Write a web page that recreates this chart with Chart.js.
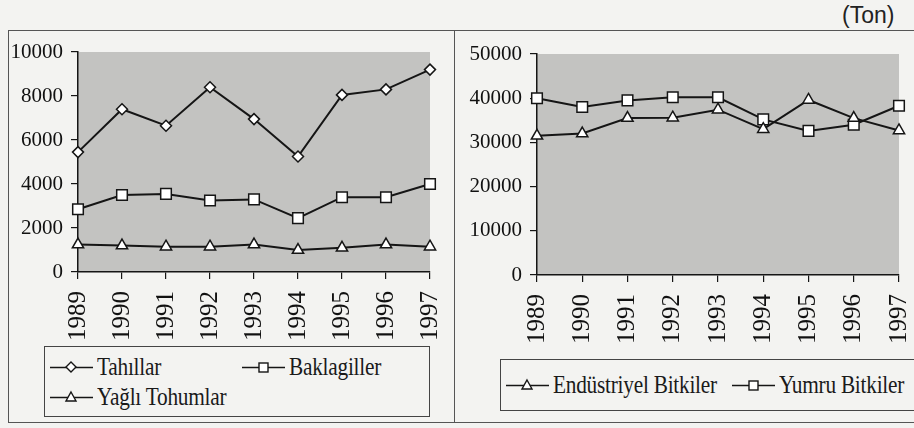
<!DOCTYPE html>
<html>
<head>
<meta charset="utf-8">
<script src="https://cdn.jsdelivr.net/npm/chart.js@4.4.1/dist/chart.umd.min.js"></script>
<style>
body { margin:0; width:914px; height:428px; background:#f3f3f1; overflow:hidden; position:relative; font-family:"Liberation Serif", serif; }
#frame { position:absolute; left:8px; top:30px; width:920px; height:391px; border:1.5px solid #555; border-right:none; }
#divider { position:absolute; left:454px; top:30px; width:0; height:392px; border-left:1.5px solid #555; }
#ton { position:absolute; left:842px; top:2px; font-family:"Liberation Sans", Arial, sans-serif; font-size:23px; color:#222; }
canvas { position:absolute; }
.legend { position:absolute; border:1.5px solid #444; }
.item { position:absolute; height:30px; white-space:nowrap; }
.item svg { position:absolute; left:0; top:8px; }
.item span { position:absolute; left:47px; top:0; font-family:"Liberation Serif", "Times New Roman", serif; font-size:26px; line-height:30px; color:#1a1a1a; transform:scaleX(0.82); transform-origin:left center; letter-spacing:-0.3px; }
</style>
</head>
<body>
<div id="frame"></div>
<div id="divider"></div>
<div id="ton">(Ton)</div>
<canvas id="chartLeft" width="446" height="315" style="left:8px;top:31px;"></canvas>
<canvas id="chartRight" width="459" height="325" style="left:455px;top:31px;"></canvas>

<div class="legend" id="legLeft" style="left:44px;top:346px;width:384px;height:69px;"></div>
<div class="legend" id="legRight" style="left:500px;top:359px;width:440px;height:50px;"></div>

<script>
"use strict";
// data
var years = ["1989", "1990", "1991", "1992", "1993", "1994", "1995", "1996", "1997"];
var tahillar = [5450, 7400, 6650, 8400, 6950, 5250, 8050, 8300, 9200];
var baklagiller = [2850, 3500, 3550, 3250, 3300, 2450, 3400, 3400, 4000];
var yagliTohumlar = [1250, 1200, 1150, 1150, 1250, 1000, 1100, 1250, 1150];
var endustriyel = [31500, 32000, 35500, 35600, 37400, 33000, 39600, 35500, 32700];
var yumru = [40000, 38000, 39500, 40200, 40200, 35200, 32600, 34000, 38300];
var leftYTicks = [0, 2000, 4000, 6000, 8000, 10000];
var rightYTicks = [0, 10000, 20000, 30000, 40000, 50000];

var ink = "#151515";

// gray plot area like the old excel chart
var plotBg = {
	id: "plotBg",
	beforeDraw: function (chart) {
		var a = chart.chartArea;
		var ctx = chart.ctx;
		ctx.save();
		ctx.fillStyle = "#c3c3c1";
		ctx.fillRect(a.left, a.top, a.right - a.left, a.bottom - a.top);
		ctx.restore();
	}
};

function series(label, data, style, r) {
	return {
		label: label,
		data: data,
		borderColor: ink,
		borderWidth: 2,
		pointStyle: style,
		pointRadius: r,
		pointHoverRadius: r,
		pointBackgroundColor: "#ffffff",
		pointBorderColor: ink,
		pointBorderWidth: 1.5,
		tension: 0,
		clip: false
	};
}

function makeOptions(ticks, yWidth, xHeight, pad) {
	return {
		responsive: false,
		animation: false,
		devicePixelRatio: 1,
		layout: { autoPadding: false, padding: pad },
		plugins: { legend: { display: false }, tooltip: { enabled: false } },
		scales: {
			x: {
				offset: false,
				border: { display: true, color: ink, width: 1.5 },
				grid: { display: true, drawOnChartArea: false, drawTicks: true, tickLength: 7, color: ink, lineWidth: 1.2 },
				ticks: { color: "#111", maxRotation: 90, minRotation: 90, padding: 12, autoSkip: false,
					font: { family: "Liberation Serif", size: 25 } },
				afterFit: function (scale) {
					scale.height = xHeight;
					scale.paddingLeft = 0;
					scale.paddingRight = 0;
				}
			},
			y: {
				min: ticks[0],
				max: ticks[ticks.length - 1],
				border: { display: true, color: ink, width: 1.5 },
				grid: { display: true, drawOnChartArea: false, drawTicks: true, tickLength: 7, color: ink, lineWidth: 1.2 },
				ticks: { color: "#111", stepSize: ticks[1] - ticks[0], padding: 8,
					callback: function (v) { return String(v); },
					font: { family: "Liberation Serif", size: 21 } },
				afterFit: function (scale) {
					scale.width = yWidth;
					scale.paddingTop = 0;
					scale.paddingBottom = 0;
				}
			}
		}
	};
}

new Chart(document.getElementById("chartLeft"), {
	type: "line",
	data: {
		labels: years,
		datasets: [
			series("Tahıllar", tahillar, "rectRot", 5.5),
			series("Baklagiller", baklagiller, "rect", 7.5),
			series("Yağlı Tohumlar", yagliTohumlar, "triangle", 6.5)
		]
	},
	options: makeOptions(leftYTicks, 70, 74, { left: 0, right: 24, top: 21, bottom: 0 }),
	plugins: [plotBg]
});

new Chart(document.getElementById("chartRight"), {
	type: "line",
	data: {
		labels: years,
		datasets: [
			series("Endüstriyel Bitkiler", endustriyel, "triangle", 6.5),
			series("Yumru Bitkiler", yumru, "rect", 7.5)
		]
	},
	options: makeOptions(rightYTicks, 82, 81, { left: 0, right: 15, top: 23, bottom: 0 }),
	plugins: [plotBg]
});

// legend boxes, line with marker then the name
var marks = {
	diamond: '<path d="M21 2 L26 7 L21 12 L16 7 Z" fill="#fff" stroke="#151515" stroke-width="1.4"/>',
	square: '<rect x="17" y="3" width="9" height="9" fill="#fff" stroke="#151515" stroke-width="1.4"/>',
	triangle: '<path d="M21 2 L26 11 L16 11 Z" fill="#fff" stroke="#151515" stroke-width="1.4"/>'
};

function legendItem(box, x, y, name, mark) {
	var d = document.createElement("div");
	d.className = "item";
	d.style.left = x + "px";
	d.style.top = y + "px";
	d.innerHTML = '<svg width="43" height="15"><line x1="0" y1="7.5" x2="43" y2="7.5" stroke="#151515" stroke-width="1.6"/>' +
		marks[mark] + '</svg><span>' + name + '</span>';
	document.getElementById(box).appendChild(d);
}

legendItem("legLeft", 5, 5, "Tahıllar", "diamond");
legendItem("legLeft", 197, 5, "Baklagiller", "square");
legendItem("legLeft", 5, 35, "Yağlı Tohumlar", "triangle");
legendItem("legRight", 5, 10, "Endüstriyel Bitkiler", "triangle");
legendItem("legRight", 231, 10, "Yumru Bitkiler", "square");
</script>
</body>
</html>
